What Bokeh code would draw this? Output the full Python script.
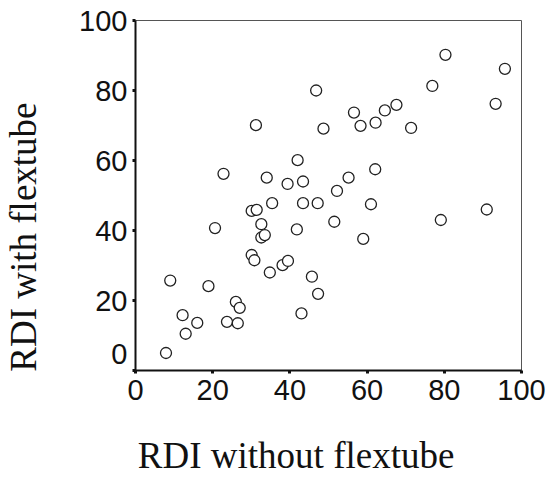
from bokeh.plotting import figure
from bokeh.models import FixedTicker, ColumnDataSource
from bokeh.embed import file_html
from bokeh.resources import INLINE

# Data
rdi_without = [7.9, 9.0, 12.2, 13.0, 16.0, 18.9, 20.6, 23.7, 26.0, 27.0, 26.5,
               30.1, 31.4, 32.6, 32.6, 33.5, 30.1, 30.8, 34.8, 35.4, 38.1, 39.5,
               41.8, 43.4, 47.2, 45.7, 47.3, 43.0,
               51.5, 61.0, 59.0, 79.1, 91.0,
               46.8, 31.2, 48.7, 22.8, 42.0, 34.0, 39.4, 43.4,
               80.3, 95.7, 76.9, 93.3, 67.6, 64.6, 56.6, 58.3, 62.2, 71.4, 62.1, 55.2, 52.2]
rdi_with = [5.0, 25.7, 15.8, 10.5, 13.6, 24.1, 40.7, 13.9, 19.6, 17.9, 13.5,
            45.6, 45.9, 41.8, 38.0, 38.7, 33.0, 31.5, 28.0, 47.8, 30.1, 31.3,
            40.3, 47.8, 47.8, 26.8, 21.9, 16.3,
            42.5, 47.5, 37.6, 43.0, 46.0,
            80.0, 70.1, 69.1, 56.2, 60.1, 55.1, 53.3, 54.0,
            90.2, 86.2, 81.3, 76.2, 75.9, 74.3, 73.7, 69.9, 70.8, 69.3, 57.5, 55.1, 51.3]
tick_values = [0, 20, 40, 60, 80, 100]
x_label = "RDI without flextube"
y_label = "RDI with flextube"

src = ColumnDataSource(dict(x=rdi_without, y=rdi_with))

p = figure(width=550, height=485, x_range=(0, 100), y_range=(0, 100),
           output_backend="svg", toolbar_location=None, title=None,
           min_border_left=133, min_border_right=29, min_border_top=20,
           min_border_bottom=115)
p.background_fill_color = "white"
p.border_fill_color = "white"
p.grid.visible = False
p.outline_line_color = "#555555"
p.outline_line_width = 1

p.scatter("x", "y", source=src, size=11, marker="circle",
          fill_color="white", line_color="#222222", line_width=1.3)

for ax in (p.xaxis[0], p.yaxis[0]):
    ax.ticker = FixedTicker(ticks=tick_values)
    ax.axis_line_color = "#111111"
    ax.axis_line_width = 2
    ax.major_tick_in = 0
    ax.major_tick_out = 3
    ax.major_tick_line_width = 3
    ax.major_tick_line_color = "#111111"
    ax.minor_tick_line_color = None
    ax.major_label_text_font = "Liberation Sans"
    ax.major_label_text_font_size = "29px"
    ax.major_label_text_color = "#111111"
    ax.axis_label_text_font = "Liberation Serif"
    ax.axis_label_text_font_size = "37px"
    ax.axis_label_text_font_style = "normal"
    ax.axis_label_text_color = "#111111"

p.xaxis.major_label_standoff = 6
p.yaxis.major_label_standoff = 5
# the y "0" is lifted above the corner, as in the reference
p.yaxis.major_label_overrides = {0: "0\n"}
p.yaxis.major_label_text_line_height = 1.05

# the reference's axis titles sit off-centre; trailing no-break spaces shift them
p.xaxis.axis_label = x_label + "\u00a0" * 7
p.yaxis.axis_label = y_label + "\u00a0" * 9
p.xaxis.axis_label_standoff = 32
p.yaxis.axis_label_standoff = 32

open("out.html", "w").write(file_html(p, INLINE))
